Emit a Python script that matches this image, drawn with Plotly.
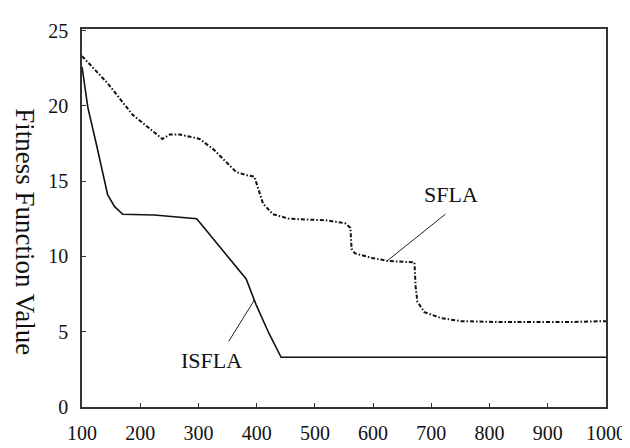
import plotly.graph_objects as go

# ISFLA (solid)
isfla_x = [100, 110, 125, 144, 156, 170, 224, 263, 297, 314, 348, 382, 399, 421, 442, 600, 1000]
isfla_y = [22.6, 19.9, 17.4, 14.1, 13.3, 12.8, 12.75, 12.6, 12.5, 11.7, 10.1, 8.5, 6.8, 4.9, 3.3, 3.3, 3.3]

# SFLA (dash-dot)
sfla_x = [100, 144, 187, 238, 251, 268, 302, 326, 365, 382, 396, 405, 411, 428, 456, 518, 552,
          561, 563, 569, 598, 625, 671, 673, 676, 688, 717, 751, 819, 932, 1000]
sfla_y = [23.3, 21.5, 19.4, 17.8, 18.1, 18.1, 17.8, 17.1, 15.6, 15.4, 15.3, 14.3, 13.5, 12.8, 12.5, 12.4, 12.2,
          11.9, 10.5, 10.2, 9.9, 9.7, 9.6, 8.0, 7.0, 6.3, 5.9, 5.7, 5.64, 5.64, 5.7]

# leader lines and labels
sfla_leader_x = [724, 624]
sfla_leader_y = [12.8, 9.7]
isfla_leader_x = [352, 396]
isfla_leader_y = [4.36, 7.1]
sfla_label = (734, 14.1)
isfla_label = (323, 3.1)

x_ticks = [100, 200, 300, 400, 500, 600, 700, 800, 900, 1000]
y_ticks = [0, 5, 10, 15, 20, 25]

FONT = "Liberation Serif"

fig = go.Figure()
fig.add_trace(go.Scatter(x=isfla_x, y=isfla_y, mode="lines",
                         line=dict(color="#111111", width=1.6), showlegend=False))
fig.add_trace(go.Scatter(x=sfla_x, y=sfla_y, mode="lines",
                         line=dict(color="#111111", width=2, dash="4px,2px,1.5px,2px"), showlegend=False))
fig.add_trace(go.Scatter(x=sfla_leader_x, y=sfla_leader_y, mode="lines",
                         line=dict(color="#222222", width=1), showlegend=False))
fig.add_trace(go.Scatter(x=isfla_leader_x, y=isfla_leader_y, mode="lines",
                         line=dict(color="#222222", width=1), showlegend=False))

fig.add_annotation(x=sfla_label[0], y=sfla_label[1], text="SFLA", showarrow=False,
                   font=dict(family=FONT, size=22, color="#111111"))
fig.add_annotation(x=isfla_label[0], y=isfla_label[1], text="ISFLA", showarrow=False,
                   font=dict(family=FONT, size=22, color="#111111"))
fig.add_annotation(xref="paper", yref="paper", x=-0.108, y=0.464, xanchor="center", yanchor="middle",
                   text="Fitness Function Value", textangle=90, showarrow=False,
                   font=dict(family=FONT, size=27, color="#111111"))

fig.update_layout(
    width=630, height=448,
    margin=dict(l=74, r=27, t=15, b=41),
    paper_bgcolor="white", plot_bgcolor="white",
    font=dict(family=FONT, size=20, color="#111111"),
)
fig.update_xaxes(range=[100, 1000], tickvals=x_ticks, ticktext=[str(v) for v in x_ticks],
                 showgrid=False, zeroline=False, showline=True, linecolor="#333333", linewidth=1.5,
                 mirror=True, ticks="inside", ticklen=4, tickcolor="#333333", ticklabelstandoff=7)
fig.update_yaxes(range=[0, 25.1], tickvals=y_ticks, ticktext=[str(v) for v in y_ticks],
                 showgrid=False, zeroline=False, showline=True, linecolor="#333333", linewidth=1.5,
                 mirror=True, ticks="inside", ticklen=4, tickcolor="#333333", ticklabelstandoff=8)

fig.write_html("out.html")
